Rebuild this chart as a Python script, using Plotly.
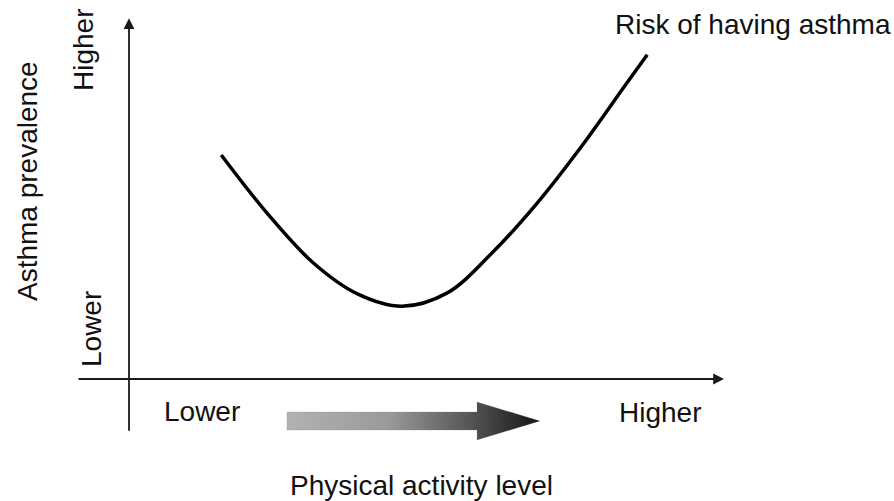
import plotly.graph_objects as go

# Conceptual data: physical activity level (x) vs. asthma prevalence (y), arbitrary units 0-10
activity = [1.55, 2.32, 3.08, 3.83, 4.59, 5.35, 6.10, 6.86, 7.61, 8.37, 8.71]
prevalence = [6.24, 4.62, 3.26, 2.38, 2.03, 2.40, 3.51, 4.90, 6.49, 8.25, 9.03]

x_ticks = ["Lower", "Higher"]
y_ticks = ["Lower", "Higher"]
x_title = "Physical activity level"
y_title = "Asthma prevalence"
curve_label = "Risk of having asthma"

W, H = 894, 501
X_RANGE = [-2.168, 12.857]
Y_RANGE = [-3.398, 10.557]

FONT = "Liberation Sans, Arial, Helvetica, sans-serif"
FS = 28

fig = go.Figure()

# gradient arrow (decorative)
arr_x = [2.655, 5.849, 5.849, 6.908, 5.849, 5.849, 2.655, 2.655]
arr_y = [-0.919, -0.919, -0.641, -1.170, -1.699, -1.421, -1.421, -0.919]
fig.add_trace(go.Scatter(
    x=arr_x, y=arr_y, mode="lines", fill="toself",
    line=dict(width=0.5, color="rgba(120,120,120,0.4)"),
    fillgradient=dict(type="horizontal",
                      colorscale=[[0, "#b2b2b2"], [0.4, "#9a9a9a"], [0.7, "#5a5a5a"], [1, "#151515"]]),
    hoverinfo="skip", showlegend=False))

# the curve
fig.add_trace(go.Scatter(
    x=activity, y=prevalence, mode="lines",
    line=dict(color="black", width=3.5, shape="spline", smoothing=1.0),
    showlegend=False, hoverinfo="skip"))

# axis lines with arrows
fig.add_annotation(x=0, y=10.05, ax=0, ay=-1.48, xref="x", yref="y", axref="x", ayref="y",
                   showarrow=True, arrowhead=2, arrowsize=1.2, arrowwidth=1.8, arrowcolor="#1a1a1a", text="")
fig.add_annotation(x=10.0, y=0, ax=-0.874, ay=0, xref="x", yref="y", axref="x", ayref="y",
                   showarrow=True, arrowhead=2, arrowsize=1.2, arrowwidth=1.8, arrowcolor="#1a1a1a", text="")

def txt(px, py, s, angle=0):
    fig.add_annotation(x=px / W, y=1 - py / H, xref="paper", yref="paper", text=s,
                       showarrow=False, textangle=angle, xanchor="center", yanchor="middle",
                       font=dict(family=FONT, size=FS, color="#111"))

txt(84, 50, y_ticks[1], -90)
txt(91, 329, y_ticks[0], -90)
txt(27, 181, y_title, -90)
txt(202, 411, x_ticks[0])
txt(660, 412, x_ticks[1])
txt(421, 485, x_title)
txt(753, 25, curve_label)

fig.update_xaxes(range=X_RANGE, visible=False)
fig.update_yaxes(range=Y_RANGE, visible=False)
fig.update_layout(width=W, height=H, margin=dict(l=0, r=0, t=0, b=0),
                  plot_bgcolor="white", paper_bgcolor="white")

fig.write_html("out.html", config={"displayModeBar": False},
               post_script="document.body.style.margin='0';document.body.style.overflow='hidden';")
